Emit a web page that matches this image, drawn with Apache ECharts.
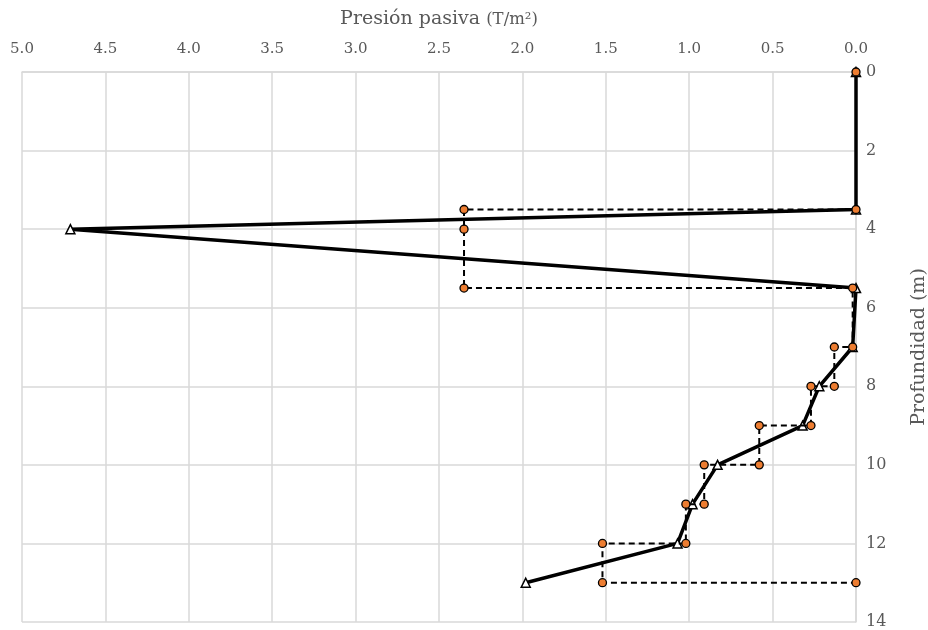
<!DOCTYPE html>
<html>
<head>
<meta charset="utf-8">
<script src="https://cdn.jsdelivr.net/npm/echarts@6/dist/echarts.min.js"></script>
<style>html,body{margin:0;padding:0;background:#fff;}#chart{width:928px;height:630px;}</style>
</head>
<body>
<div id="chart"></div>
<script>
// Solid line (triangles): pressure (T/m²) and depth (m)
const solidPressure = [0, 0, 4.71, 0, 0.02, 0.22, 0.32, 0.83, 0.98, 1.07, 1.98];
const solidDepth    = [0, 3.5, 4, 5.5, 7, 8, 9, 10, 11, 12, 13];
// Dashed line (orange circles)
const dashPressure = [0, 0, 2.35, 2.35, 2.35, 0.02, 0.02, 0.13, 0.13, 0.27, 0.27, 0.58, 0.58, 0.91, 0.91, 1.02, 1.02, 1.52, 1.52, 0];
const dashDepth    = [0, 3.5, 3.5, 4, 5.5, 5.5, 7, 7, 8, 8, 9, 9, 10, 10, 11, 11, 12, 12, 13, 13];

const FONT = 'DejaVu Serif';
const solidData = solidPressure.map((p, i) => [p, solidDepth[i]]);
const dashData = dashPressure.map((p, i) => [p, dashDepth[i]]);

const chart = echarts.init(document.getElementById('chart'));
chart.setOption({
  animation: false,
  backgroundColor: '#fff',
  grid: { left: 22, right: 72, top: 72, bottom: 8, containLabel: false, outerBoundsMode: 'none' },
  xAxis: {
    type: 'value', position: 'top', inverse: true,
    min: 0, max: 5, interval: 0.5,
    name: '{a|Presión pasiva }{b|(T/m²)}',
    nameLocation: 'middle', nameGap: 43,
    nameTextStyle: { rich: {
      a: { fontFamily: FONT, fontSize: 19, color: '#595959' },
      b: { fontFamily: FONT, fontSize: 16.5, color: '#595959' }
    } },
    axisLine: { show: true, lineStyle: { color: '#d9d9d9', width: 1.5 } },
    axisTick: { show: false },
    axisLabel: { fontFamily: FONT, fontSize: 15, color: '#595959', margin: 15,
      formatter: v => v.toFixed(1) },
    splitLine: { show: true, lineStyle: { color: '#d9d9d9', width: 1.5 } }
  },
  yAxis: {
    type: 'value', position: 'right', inverse: true,
    min: 0, max: 14, interval: 2,
    name: 'Profundidad (m)', nameLocation: 'middle', nameGap: 54, nameRotate: 90,
    nameTextStyle: { fontFamily: FONT, fontSize: 19, color: '#595959' },
    axisLine: { show: true, lineStyle: { color: '#d9d9d9', width: 1.5 } },
    axisTick: { show: false },
    axisLabel: { fontFamily: FONT, fontSize: 16, color: '#595959', margin: 10 },
    splitLine: { show: true, lineStyle: { color: '#d9d9d9', width: 1.5 } }
  },
  series: [
    {
      type: 'line', data: solidData,
      symbol: 'triangle', symbolSize: 9,
      lineStyle: { color: '#000', width: 3.5 },
      itemStyle: { color: '#fff', borderColor: '#000', borderWidth: 1.5 },
      z: 2
    },
    {
      type: 'line', data: dashData,
      symbol: 'circle', symbolSize: 8,
      lineStyle: { color: '#000', width: 2, type: [6, 4] },
      itemStyle: { color: '#ED7D31', borderColor: '#000', borderWidth: 1.3 },
      z: 3
    }
  ]
});
</script>
</body>
</html>
